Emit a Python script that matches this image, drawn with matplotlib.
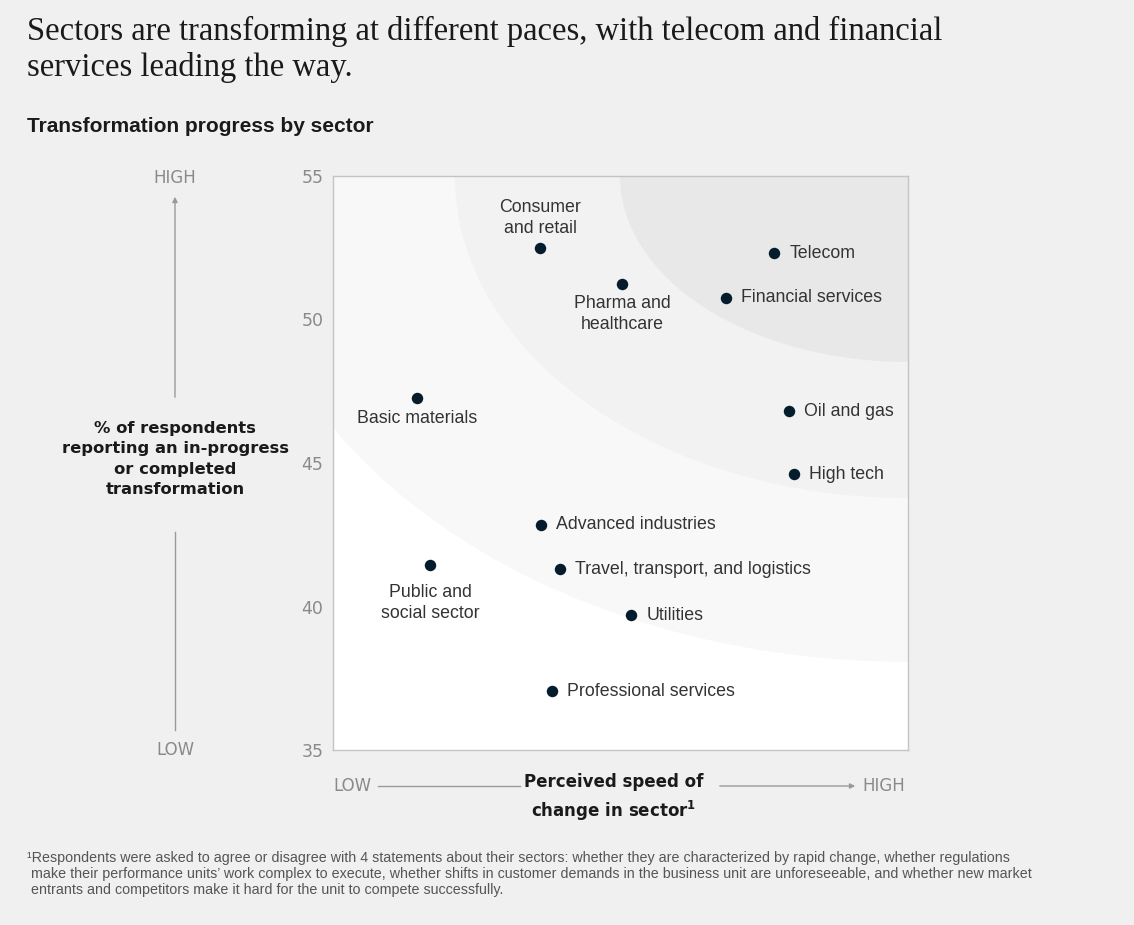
import matplotlib.pyplot as plt
from matplotlib.patches import Ellipse, FancyArrowPatch

# data (x is a 0-100 "speed of change" scale)
sectors = ["Consumer\nand retail", "Pharma and\nhealthcare", "Telecom", "Financial services",
           "Basic materials", "Oil and gas", "High tech", "Advanced industries",
           "Travel, transport, and logistics", "Public and\nsocial sector", "Utilities",
           "Professional services"]
speed = [36.0, 50.3, 76.7, 68.3, 14.6, 79.3, 80.2, 36.2, 39.5, 16.9, 51.8, 38.1]
progress = [52.5, 51.25, 52.3, 50.75, 47.25, 46.8, 44.6, 42.85, 41.3, 41.45, 39.7, 37.05]
y_ticks = [35, 40, 45, 50, 55]

# label placement: (dx, dy) in points, ha, va
place = {
    "Consumer\nand retail": (0, 8, "center", "bottom"),
    "Pharma and\nhealthcare": (0, -8.5, "center", "top"),
    "Public and\nsocial sector": (0, -14, "center", "top"),
    "Basic materials": (0, -8, "center", "top"),
}

bg = "#f0f0f0"
fig = plt.figure(figsize=(11.34, 9.25), dpi=100, facecolor=bg)
ax = fig.add_axes([333/1134, 1-750/925, 575/1134, 574/925])
ax.set_xlim(0, 100)
ax.set_ylim(35, 55)
ax.set_facecolor("white")

# concentric bands around the top-right corner
bands = [(116.9, 16.93, "#f8f8f8"), (78.8, 11.22, "#f2f2f2"), (50.1, 6.48, "#e8e8e8")]
for a, b, c in bands:
    ax.add_patch(Ellipse((100, 55), 2*a, 2*b, facecolor=c, edgecolor="none", zorder=0))

ax.scatter(speed, progress, s=68, color="#051c2c", zorder=3, linewidths=0)

for name, x, y in zip(sectors, speed, progress):
    dx, dy, ha, va = place.get(name, (11, 0, "left", "center"))
    ax.annotate(name, (x, y), xytext=(dx, dy), textcoords="offset points",
                ha=ha, va=va, fontsize=12.8, color="#333333", linespacing=1.3,
                family="Liberation Sans", zorder=4)

ax.set_xticks([])
ax.set_yticks(y_ticks)
ax.tick_params(axis="y", length=0, pad=7, labelsize=12.5, labelcolor="#8a8a8a")
for s in ax.spines.values():
    s.set_color("#c4c4c4")
    s.set_linewidth(1)

# titles
fig.text(27/1134, 1-40/925, "Sectors are transforming at different paces, with telecom and financial",
         ha="left", va="baseline", fontsize=23.5, family="Liberation Serif", color="#1a1a1a")
fig.text(27/1134, 1-76/925, "services leading the way.",
         ha="left", va="baseline", fontsize=23.5, family="Liberation Serif", color="#1a1a1a")
fig.text(27/1134, 1-126/925, "Transformation progress by sector", ha="left", va="center",
         fontsize=15, fontweight="bold", color="#1a1a1a", family="Liberation Sans")

# y-axis descriptor
gray = "#9a9a9a"
fig.text(175/1134, 1-178/925, "HIGH", ha="center", va="center", fontsize=12, color="#8a8a8a")
fig.text(175/1134, 1-750/925, "LOW", ha="center", va="center", fontsize=12, color="#8a8a8a")
fig.text(175/1134, 1-459/925, "% of respondents\nreporting an in-progress\nor completed\ntransformation",
         ha="center", va="center", fontsize=11.8, fontweight="bold", color="#1a1a1a", linespacing=1.42)
fig.add_artist(FancyArrowPatch((175/1134, 1-400/925), (175/1134, 1-194/925), transform=fig.transFigure,
                               arrowstyle="-|>,head_length=3,head_width=1.5", color=gray, lw=1))
fig.add_artist(plt.Line2D([175/1134, 175/1134], [1-532/925, 1-730/925], color=gray, lw=1))

# x-axis descriptor
fig.text(352/1134, 1-786/925, "LOW", ha="center", va="center", fontsize=12, color="#8a8a8a")
fig.text(884/1134, 1-786/925, "HIGH", ha="center", va="center", fontsize=12, color="#8a8a8a")
fig.text(614/1134, 1-798/925, "Perceived speed of\nchange in sector$^{\\mathregular{1}}$", ha="center", va="center",
         fontsize=12, fontweight="bold", color="#1a1a1a", linespacing=1.45)
fig.add_artist(plt.Line2D([378/1134, 520/1134], [1-786/925, 1-786/925], color=gray, lw=1))
fig.add_artist(FancyArrowPatch((717/1134, 1-786/925), (858/1134, 1-786/925), transform=fig.transFigure,
                               arrowstyle="-|>,head_length=3,head_width=1.5", color=gray, lw=1))

# footnote
fig.text(27/1134, 1-851/925,
         "\u00b9Respondents were asked to agree or disagree with 4 statements about their sectors: whether they are characterized by rapid change, whether regulations\n"
         " make their performance units\u2019 work complex to execute, whether shifts in customer demands in the business unit are unforeseeable, and whether new market\n"
         " entrants and competitors make it hard for the unit to compete successfully.",
         ha="left", va="top", fontsize=10.3, color="#555555", family="Liberation Sans", linespacing=1.16)

fig.savefig("out.png", dpi=100, facecolor=bg)
